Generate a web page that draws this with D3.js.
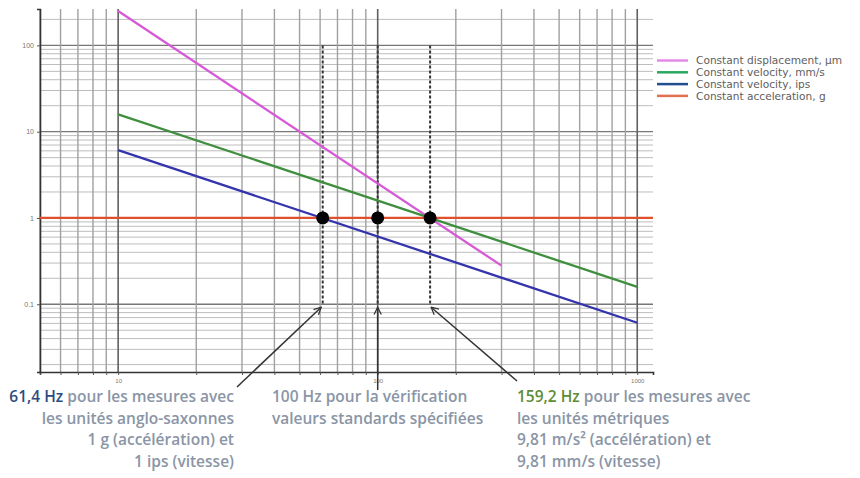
<!DOCTYPE html>
<html>
<head>
<meta charset="utf-8">
<script src="https://cdn.jsdelivr.net/npm/d3@7"></script>
<style>
  html, body { margin: 0; padding: 0; background: #fff; }
  svg { display: block; }
</style>
</head>
<body>
<svg id="chart" width="860" height="478"></svg>
<script>
// ---- data ----
const seriesNames = ["Constant displacement, μm", "Constant velocity, mm/s", "Constant velocity, ips", "Constant acceleration, g"];
const seriesColors = ["#d65ad6", "#3f8f3f", "#3434ad", "#e0502e"];
const legendColors = ["#e48ae4", "#2aa860", "#1f4f8f", "#e07050"];
const dispFreq = [10, 300];
const dispValues = [250, 0.28];
const velMmFreq = [10, 1000];
const velMmValues = [15.9, 0.159];
const velIpsFreq = [10, 1000];
const velIpsValues = [6.1, 0.061];
const accFreq = [5, 1150];
const accValues = [1, 1];
const markerFreq = [61.4, 100, 159.2];
const markerValue = 1;
const xTickLabels = [10, 100, 1000];
const yTickLabels = [0.1, 1, 10, 100];
const xDomain = [5, 1150];
const yDomain = [0.0164, 264];

const svg = d3.select("#chart");
const pL = 40, pR = 653, pT = 9, pB = 372;
const x = d3.scaleLog().domain(xDomain).range([pL, pR]);
const y = d3.scaleLog().domain(yDomain).range([pB, pT]);

const isDecade = v => Math.abs(Math.log10(v) - Math.round(Math.log10(v))) < 1e-6;

// grid
const g = svg.append("g");
g.selectAll("line.h").data(y.ticks()).join("line")
  .attr("x1", pL).attr("x2", pR)
  .attr("y1", d => y(d)).attr("y2", d => y(d))
  .attr("stroke", d => isDecade(d) ? "#777" : "#bdbdbd")
  .attr("stroke-width", d => isDecade(d) ? 1.4 : 1);
g.selectAll("line.v").data(x.ticks()).join("line")
  .attr("x1", d => x(d)).attr("x2", d => x(d))
  .attr("y1", pT).attr("y2", pB)
  .attr("stroke", d => isDecade(d) ? "#606060" : "#a0a0a0")
  .attr("stroke-width", d => isDecade(d) ? 1.6 : 1.4);

// axes
const xAxis = d3.axisBottom(x).tickValues(x.ticks()).tickSize(3)
  .tickFormat(d => xTickLabels.includes(d) ? String(d) : "");
const ax = svg.append("g").attr("transform", `translate(0,${pB})`).call(xAxis);
ax.select(".domain").attr("stroke", "#333").attr("stroke-width", 1.6);
ax.selectAll(".tick line").attr("stroke", "#555");
ax.selectAll(".tick text").attr("fill", "#777").attr("font-size", 6).attr("font-family", "Liberation Sans, Arial, sans-serif").attr("dy", "0.9em");

const yAxis = d3.axisLeft(y).tickValues(yTickLabels).tickSize(3)
  .tickFormat(d => String(d));
const ay = svg.append("g").attr("transform", `translate(${pL},0)`).call(yAxis);
ay.select(".domain").attr("stroke", "#333").attr("stroke-width", 1.6);
ay.selectAll(".tick line").attr("stroke", "#555");
ay.selectAll(".tick text").attr("fill", "#777").attr("font-size", 7).attr("font-family", "Liberation Sans, Arial, sans-serif");

// dashed marker lines
svg.selectAll("line.dash").data(markerFreq).join("line")
  .attr("x1", d => x(d)).attr("x2", d => x(d))
  .attr("y1", y(100)).attr("y2", y(0.1))
  .attr("stroke", "#333").attr("stroke-width", 2)
  .attr("stroke-dasharray", "3,2");

// series lines
const line = d3.line().x(d => x(d[0])).y(d => y(d[1]));
const series = [
  d3.zip(dispFreq, dispValues),
  d3.zip(velMmFreq, velMmValues),
  d3.zip(velIpsFreq, velIpsValues),
  d3.zip(accFreq, accValues)
];
svg.selectAll("path.s").data(series).join("path")
  .attr("d", line).attr("fill", "none")
  .attr("stroke", (d, i) => seriesColors[i]).attr("stroke-width", 2.3);

// marker dots
svg.selectAll("circle").data(markerFreq).join("circle")
  .attr("cx", d => x(d)).attr("cy", y(markerValue)).attr("r", 6.5).attr("fill", "#000");

// legend
const lg = svg.append("g");
seriesNames.forEach((name, i) => {
  const yy = 60.5 + i * 11.8;
  lg.append("line").attr("x1", 657).attr("x2", 688).attr("y1", yy).attr("y2", yy)
    .attr("stroke", legendColors[i]).attr("stroke-width", 2.5);
  lg.append("text").attr("x", 696).attr("y", yy).attr("dy", "0.35em")
    .attr("font-family", "'DejaVu Sans', sans-serif").attr("font-size", 10.6)
    .attr("fill", "#5e5e5e").text(name);
});

// arrows
const defs = svg.append("defs");
defs.append("marker").attr("id", "ah").attr("viewBox", "0 0 10 10")
  .attr("refX", 9).attr("refY", 5).attr("markerWidth", 9).attr("markerHeight", 9)
  .attr("markerUnits", "userSpaceOnUse").attr("orient", "auto")
  .append("path").attr("d", "M1,1 L9,5 L1,9").attr("fill", "none").attr("stroke", "#333").attr("stroke-width", 1.4);
const arrows = [
  { x1: 237, y1: 387, f: 61.4 },
  { x1: x(100), y1: 390, f: 100 },
  { x1: 517, y1: 381, f: 159.2 }
];
svg.selectAll("line.arrow").data(arrows).join("line")
  .attr("x1", d => d.x1).attr("y1", d => d.y1)
  .attr("x2", d => x(d.f) - (d.f < 100 ? 1.5 : d.f > 100 ? -1 : 0)).attr("y2", y(0.1) + 3)
  .attr("stroke", "#333").attr("stroke-width", 1.5).attr("marker-end", "url(#ah)");

// annotation text
const font = "'Open Sans', sans-serif";
const fs = 15.5, lh = 21.7, base = 402;
const grayC = "#8a95a6", blueC = "#2d4a7e", greenC = "#5e8c36";
function block(xx, anchor, lines) {
  lines.forEach((parts, i) => {
    const t = svg.append("text").attr("x", xx).attr("y", base + i * lh)
      .attr("text-anchor", anchor).attr("font-family", font).attr("font-size", fs)
      .attr("font-weight", 600);
    parts.forEach(p => t.append("tspan").attr("fill", p[1]).text(p[0]));
  });
}
block(234, "end", [
  [["61,4 Hz", blueC], [" pour les mesures avec", grayC]],
  [["les unités anglo-saxonnes", grayC]],
  [["1 g (accélération) et", grayC]],
  [["1 ips (vitesse)", grayC]]
]);
block(272, "start", [
  [["100 Hz pour la vérification", grayC]],
  [["valeurs standards spécifiées", grayC]]
]);
block(517, "start", [
  [["159,2 Hz", greenC], [" pour les mesures avec", grayC]],
  [["les unités métriques", grayC]],
  [["9,81 m/s² (accélération) et", grayC]],
  [["9,81 mm/s (vitesse)", grayC]]
]);
</script>
</body>
</html>
